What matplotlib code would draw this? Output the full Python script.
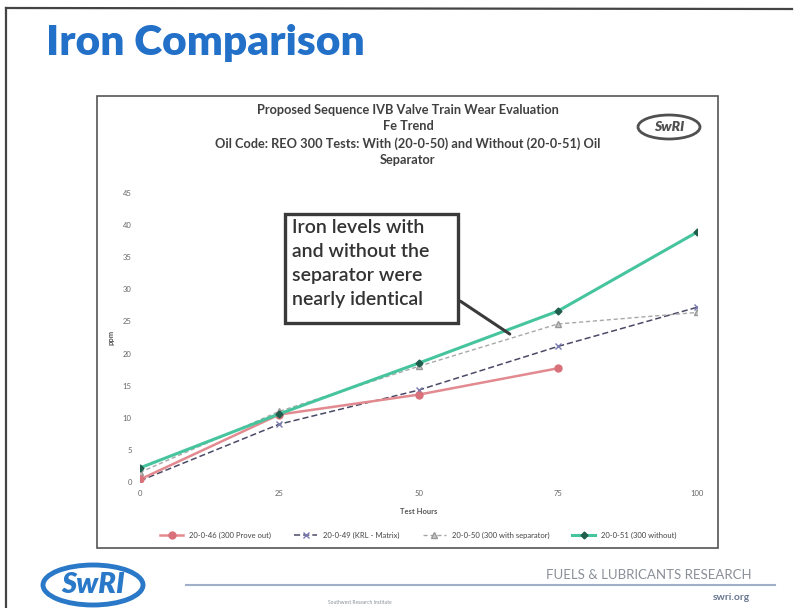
import numpy as np
import matplotlib.pyplot as plt
from matplotlib.patches import Rectangle, Ellipse

plt.rcParams['font.family'] = ['Lato', 'DejaVu Sans']

# Fe (ppm) by test hours
hours = [0, 25, 50, 75, 100]
fe_46 = [0.4, 10.5, 13.6, 17.7]          # 300 prove out, stops at 75 h
fe_49 = [0.2, 9.0, 14.3, 21.1, 27.2]     # matrix
fe_50 = [1.5, 11.0, 18.0, 24.6, 26.4]    # with separator
fe_51 = [2.2, 10.6, 18.5, 26.6, 38.9]    # without separator

labels = ['20-0-46 (300 Prove out)', '20-0-49 (KRL - Matrix)',
          '20-0-50 (300 with separator)', '20-0-51 (300 without)']
yticks = np.arange(0, 50, 5)
xticks = [0, 25, 50, 75, 100]

fig = plt.figure(figsize=(7.94, 6.08), dpi=100)
W, H = 794, 608

def fx(px):
    return px / W

def fy(py):
    return 1 - py / H

# slide frame
fig.add_artist(plt.Line2D([fx(6), fx(792)], [fy(8), fy(9)], color='#444444', lw=1.6))
fig.add_artist(plt.Line2D([fx(6), fx(6)], [fy(8), fy(608)], color='#444444', lw=1.6))

fig.text(fx(46), fy(43), 'Iron Comparison', color='#2270c8', fontsize=30.5,
         fontweight='heavy', va='center', ha='left')

# chart box
fig.add_artist(Rectangle((fx(97), fy(548)), fx(718) - fx(97), fy(96) - fy(548),
                         transform=fig.transFigure, fill=False, ec='#555555', lw=1.2))

title = ('Proposed Sequence IVB Valve Train Wear Evaluation\nFe Trend\n'
         'Oil Code: REO 300 Tests: With (20-0-50) and Without (20-0-51) Oil\nSeparator')
fig.text(fx(408), fy(104), title, ha='center', va='top', fontsize=9.2,
         fontweight='bold', color='#404040', linespacing=1.45)

# small logo in the chart corner
fig.add_artist(Ellipse((fx(669), fy(127)), fx(62), fy(0) - fy(24), transform=fig.transFigure,
                       fill=False, ec='#505050', lw=2))
fig.text(fx(669), fy(127), 'SwRI', ha='center', va='center', fontsize=10,
         fontweight='heavy', style='italic', color='#505050')

ax = fig.add_axes([fx(140), fy(482), fx(697) - fx(140), fy(193) - fy(482)])
ax.plot(hours[:len(fe_46)], fe_46, color='#e28a8f', lw=1.8, marker='o', ms=5,
        mfc='#d9717a', mec='#d9717a', label=labels[0], zorder=3)
ax.plot(hours, fe_49, color='#4a4a66', lw=1.1, ls=(0, (4, 2)), marker='x', ms=4,
        mec='#7a7ab0', label=labels[1], zorder=2)
ax.plot(hours, fe_50, color='#a8a8a8', lw=1.0, ls=(0, (3, 2)), marker='^', ms=4,
        mfc='#c8c8c8', mec='#999999', label=labels[2], zorder=2)
ax.plot(hours, fe_51, color='#46c49e', lw=2.2, marker='D', ms=3.5,
        mfc='#1f5e4c', mec='#1f5e4c', label=labels[3], zorder=4)

ax.set_xlim(0, 100)
ax.set_ylim(0, 45)
ax.set_xticks(xticks)
ax.set_yticks(yticks)
ax.tick_params(length=0, labelsize=5.5, labelcolor='#666666', pad=6)
for s in ax.spines.values():
    s.set_visible(False)
ax.set_xlabel('Test Hours', fontsize=5.5, fontweight='bold', color='#555555', labelpad=8)
ax.set_ylabel('ppm', fontsize=5.5, fontweight='bold', color='#555555', labelpad=6)

# callout box
ax.add_patch(Rectangle((26.0, 24.7), 31.1, 17.1, fill=False, ec='#3a3a3a', lw=2.4,
                       clip_on=False, zorder=5))
ax.text(27.2, 41.0, 'Iron levels with\nand without the\nseparator were\nnearly identical',
        ha='left', va='top', fontsize=14, fontweight='semibold', color='#333333',
        linespacing=1.5, zorder=6)
ax.annotate('', xy=(66.8, 22.8), xytext=(57.1, 28.4),
            arrowprops=dict(arrowstyle='-', color='#3a3a3a', lw=2.2), zorder=6)

ax.legend(loc='center', bbox_to_anchor=(0.5, (fy(535) - fy(482)) / (fy(193) - fy(482))),
          ncol=4, frameon=False, fontsize=5.5, handlelength=3, columnspacing=3,
          labelcolor='#444444')

# footer
fig.add_artist(Ellipse((fx(93), fy(585)), fx(100), fy(0) - fy(40), transform=fig.transFigure,
                       fill=False, ec='#2a78c8', lw=3.5))
fig.text(fx(93), fy(585), 'SwRI', ha='center', va='center', fontsize=21,
         fontweight='heavy', style='italic', color='#2a78c8')
fig.add_artist(plt.Line2D([fx(186), fx(775)], [fy(585), fy(585)], color='#9fb0c8', lw=1.5))
fig.text(fx(752), fy(575), 'FUELS & LUBRICANTS RESEARCH', ha='right', va='center',
         fontsize=9.5, color='#8a8f98')
fig.text(fx(750), fy(598), 'swri.org', ha='right', va='center', fontsize=7.5,
         fontweight='bold', color='#6a7890')
fig.text(fx(360), fy(603), 'Southwest Research Institute', ha='center', va='center',
         fontsize=3.5, color='#8a8f98')

fig.savefig('out.png', dpi=100)
